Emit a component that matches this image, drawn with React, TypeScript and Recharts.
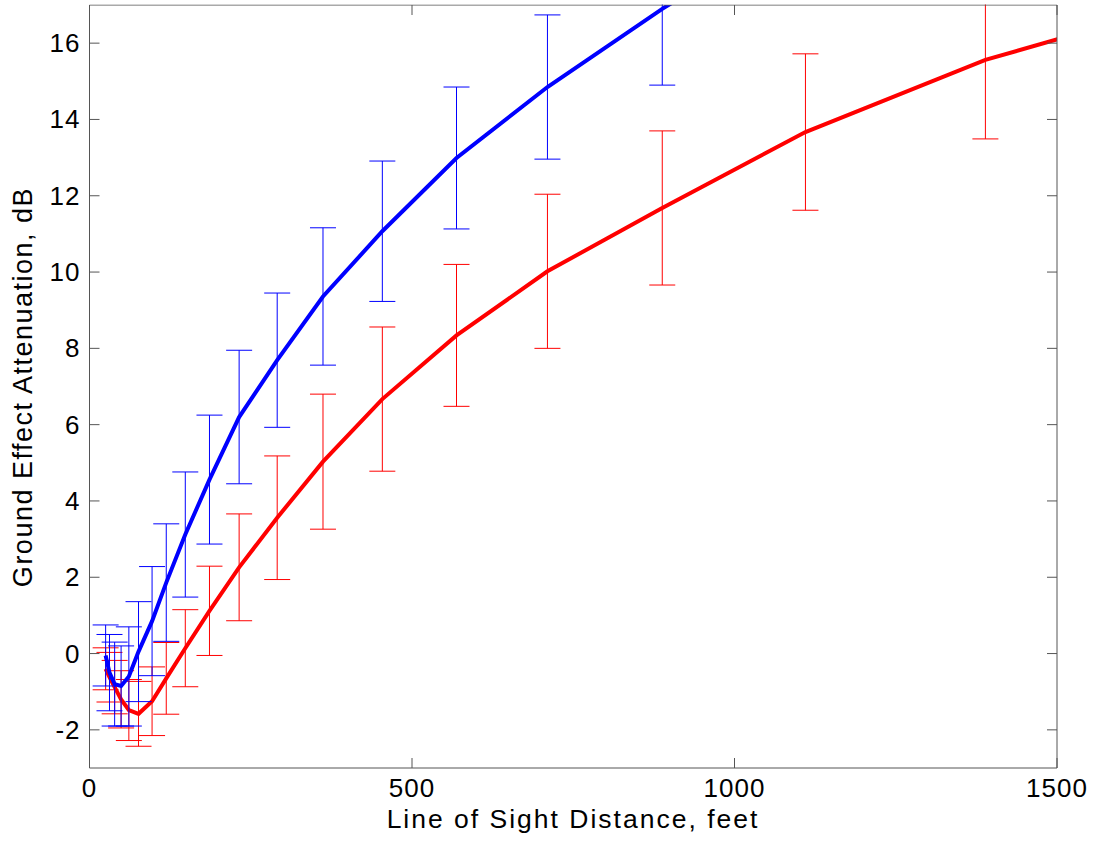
import { ComposedChart, ErrorBar, Label, Line, XAxis, YAxis } from 'recharts'

// line-of-sight distance, feet (points where the error bars sit)
const distanceFt = [25, 31, 39, 49, 61, 76, 97, 119, 148.5, 186, 232, 291, 362, 454, 569, 710, 888, 1110, 1389, 1736]

// blue curve, dB, and its +/- spread
const blueDb = [-0.05, -0.5, -0.8, -0.85, -0.6, 0.05, 0.85, 1.86, 3.12, 4.56, 6.2, 7.69, 9.36, 11.07, 12.99, 14.85, 16.9, 19.2]
const blueSpread = [0.8, 1.0, 1.1, 1.05, 1.3, 1.31, 1.43, 1.54, 1.64, 1.69, 1.75, 1.76, 1.8, 1.84, 1.86, 1.89, 2.0, 2.0]

// red curve, dB, and its +/- spread
const redDb = [-0.4, -0.62, -0.88, -1.2, -1.48, -1.58, -1.25, -0.65, 0.14, 1.12, 2.26, 3.56, 5.03, 6.67, 8.34, 10.02, 11.68, 13.67, 15.56, 17.25]
const redSpread = [0.55, 0.65, 0.7, 0.75, 0.8, 0.85, 0.9, 0.94, 1.01, 1.17, 1.4, 1.62, 1.77, 1.89, 1.86, 2.02, 2.02, 2.05, 2.07, 2.1]

const xTicks = [0, 500, 1000, 1500]
const yTicks = [-2, 0, 2, 4, 6, 8, 10, 12, 14, 16]

const rows = distanceFt.map((d, i) => ({
  d,
  blue: blueDb[i],
  blueErr: blueSpread[i],
  red: redDb[i],
  redErr: redSpread[i],
}))

const FONT = '"Liberation Sans", Arial, sans-serif'
const BOX = '#555'
const TICK = 10

function BottomTick({ x, y, payload }: any) {
  return (
    <g>
      <line x1={x} y1={y} x2={x} y2={y - TICK} stroke={BOX} />
      <text x={x} y={y + 29} textAnchor="middle" fontSize={26} letterSpacing={1} fontFamily={FONT} fill="#000">
        {payload.value}
      </text>
    </g>
  )
}

function TopTick({ x, y }: any) {
  return <line x1={x} y1={y} x2={x} y2={y + TICK} stroke={BOX} />
}

function LeftTick({ x, y, payload }: any) {
  return (
    <g>
      <line x1={x} y1={y} x2={x + TICK} y2={y} stroke={BOX} />
      <text x={x - 9} y={y + 9} textAnchor="end" fontSize={26} letterSpacing={1} fontFamily={FONT} fill="#000">
        {payload.value}
      </text>
    </g>
  )
}

function RightTick({ x, y }: any) {
  return <line x1={x} y1={y} x2={x - TICK} y2={y} stroke={BOX} />
}

export default function App() {
  // error bars are not clipped by the Line, so clip everything above the plot frame
  return (
    <div
      style={{
        position: 'absolute',
        left: 0,
        top: 0,
        width: 1094,
        height: 844,
        background: '#fff',
        clipPath: 'inset(4.5px 0 0 0)',
      }}
    >
      <ComposedChart width={1094} height={844} data={rows} margin={{ top: 4, right: 36, bottom: 0, left: 0 }}>
        <XAxis
          dataKey="d"
          type="number"
          domain={[0, 1500]}
          ticks={xTicks}
          allowDataOverflow
          height={76}
          tickLine={false}
          tickSize={0}
          tickMargin={0}
          axisLine={{ stroke: BOX }}
          tick={<BottomTick />}
        >
          <Label
            content={() => (
              <text x={573} y={828} textAnchor="middle" fontSize={26.5} letterSpacing={2} fontFamily={FONT} fill="#000">
                Line of Sight Distance, feet
              </text>
            )}
          />
        </XAxis>
        <XAxis
          xAxisId="top"
          orientation="top"
          dataKey="d"
          type="number"
          domain={[0, 1500]}
          ticks={xTicks}
          allowDataOverflow
          height={1}
          tickLine={false}
          tickSize={0}
          tickMargin={0}
          axisLine={{ stroke: BOX }}
          tick={<TopTick />}
        />
        <YAxis
          type="number"
          domain={[-3, 17]}
          ticks={yTicks}
          allowDataOverflow
          width={89.5}
          tickLine={false}
          tickSize={0}
          tickMargin={0}
          axisLine={{ stroke: BOX }}
          tick={<LeftTick />}
        >
          <Label
            content={() => (
              <text
                x={32}
                y={387}
                transform="rotate(-90 32 387)"
                textAnchor="middle"
                fontSize={27}
                letterSpacing={1.5}
                fontFamily={FONT}
                fill="#000"
              >
                Ground Effect Attenuation, dB
              </text>
            )}
          />
        </YAxis>
        <YAxis
          yAxisId="right"
          orientation="right"
          type="number"
          domain={[-3, 17]}
          ticks={yTicks}
          allowDataOverflow
          width={1}
          tickLine={false}
          tickSize={0}
          tickMargin={0}
          axisLine={{ stroke: BOX }}
          tick={<RightTick />}
        />
        <Line
          type="linear"
          dataKey="red"
          stroke="#ff0000"
          strokeWidth={4}
          dot={false}
          isAnimationActive={false}
        >
          <ErrorBar dataKey="redErr" width={13} stroke="#ff0000" strokeWidth={1} direction="y" />
        </Line>
        <Line
          type="linear"
          dataKey="blue"
          stroke="#0000ff"
          strokeWidth={4}
          dot={false}
          isAnimationActive={false}
        >
          <ErrorBar dataKey="blueErr" width={13} stroke="#0000ff" strokeWidth={1} direction="y" />
        </Line>
      </ComposedChart>
    </div>
  )
}
